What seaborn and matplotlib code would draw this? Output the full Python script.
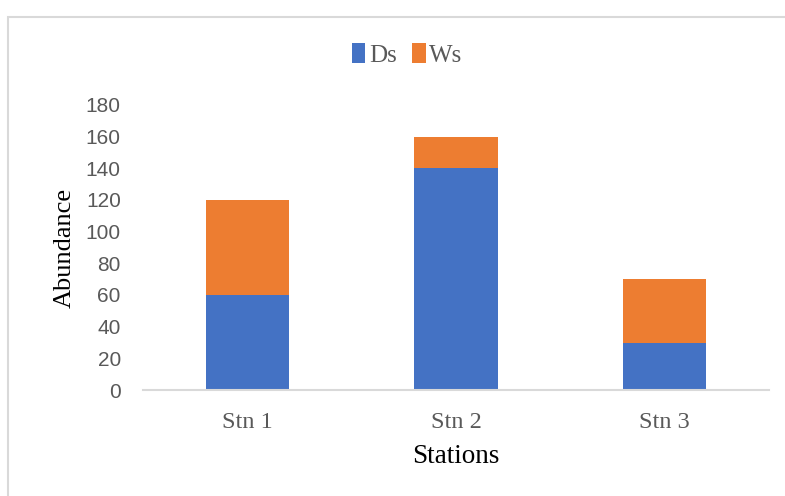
import matplotlib
matplotlib.use("Agg")
import matplotlib.pyplot as plt
from matplotlib.patches import Patch, Rectangle
import seaborn as sns

# Abundance per station, split by season
stations = ["Stn 1", "Stn 2", "Stn 3"]
ds_values = [60, 140, 30]
ws_values = [60, 20, 40]
y_ticks = [0, 20, 40, 60, 80, 100, 120, 140, 160, 180]

BLUE = "#4472C4"
ORANGE = "#ED7D31"
GRAY = "#595959"
SERIF = ["Liberation Serif", "DejaVu Serif"]
SANS = ["Liberation Sans", "DejaVu Sans"]

sns.set_theme(style="white")
plt.rcParams["font.family"] = SERIF

W, H = 785, 496
fig = plt.figure(figsize=(W / 100, H / 100), dpi=100)

def px(x0, y0, x1, y1):
    """Axes rectangle from pixel edges (origin top-left)."""
    return [x0 / W, 1 - y1 / H, (x1 - x0) / W, (y1 - y0) / H]

ax = fig.add_axes(px(143, 105, 769, 390))

totals = [d + w for d, w in zip(ds_values, ws_values)]
# Stacked bars: full height in orange, Ds portion in blue drawn over it
sns.barplot(x=stations, y=totals, color=ORANGE, width=0.4, saturation=1,
            edgecolor="none", ax=ax)
sns.barplot(x=stations, y=ds_values, color=BLUE, width=0.4, saturation=1,
            edgecolor="none", ax=ax)

ax.set_ylim(0, 180)
ax.set_yticks(y_ticks)
ax.set_yticklabels([str(v) for v in y_ticks], fontfamily=SANS,
                   fontsize=15, color=GRAY)
ax.set_xticks(range(len(stations)))
ax.set_xticklabels(stations, fontfamily=SERIF, fontsize=17.5, color=GRAY)
ax.tick_params(axis="y", length=0, pad=16)
ax.tick_params(axis="x", length=0, pad=16)

for side in ("top", "right", "left"):
    ax.spines[side].set_visible(False)
ax.spines["bottom"].set_color("#D9D9D9")
ax.spines["bottom"].set_linewidth(1.5)
ax.grid(False)

ax.set_xlabel("Stations", fontfamily=SERIF, fontsize=19.5, color="black",
              labelpad=8)
ax.set_ylabel("Abundance", fontfamily=SERIF, fontsize=19, color="black",
              labelpad=7)

handles = [Patch(facecolor=BLUE, edgecolor="none", label="Ds"),
           Patch(facecolor=ORANGE, edgecolor="none", label="Ws")]
fig.legend(handles=handles, loc="center", bbox_to_anchor=(407 / W, 1 - 55 / H),
           ncol=2, frameon=False, prop={"family": SERIF, "size": 18},
           labelcolor=GRAY, handlelength=0.55, handleheight=0.8,
           handletextpad=0.15, columnspacing=0.6)

# Outer chart frame
fig.patches.append(Rectangle((8 / W, -0.1), 1.2, 1 - 17 / H + 0.1,
                             transform=fig.transFigure, fill=False,
                             edgecolor="#D9D9D9", linewidth=1.5))

fig.savefig("out.png", dpi=100)
